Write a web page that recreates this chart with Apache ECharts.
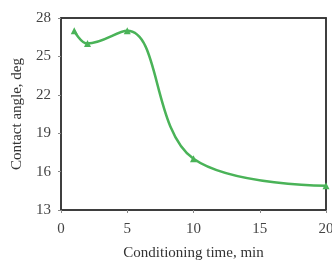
<!DOCTYPE html>
<html><head><meta charset="utf-8">
<script src="https://cdn.jsdelivr.net/npm/echarts@6/dist/echarts.min.js"></script>
<style>html,body{margin:0;padding:0;background:#fff}#c{width:332px;height:261px}</style>
</head><body><div id="c"></div>
<script>
const times = [1, 2, 5, 10, 20];
const angles = [27.0, 26.0, 27.0, 17.0, 14.9];
const xTicks = [0, 5, 10, 15, 20];
const yTicks = [13, 16, 19, 22, 25, 28];
const xName = 'Conditioning time, min';
const yName = 'Contact angle, deg';

const chart = echarts.init(document.getElementById('c'));
const font = 'Liberation Serif, Times New Roman, serif';
const frame = {show: true, onZero: false, lineStyle: {color: '#333', width: 1.5}};
chart.setOption({
  animation: false,
  grid: {left: 61, right: 6, top: 18, bottom: 51, outerBoundsMode: 'none', containLabel: false,
         show: true, borderColor: '#333', borderWidth: 1.5},
  xAxis: [{
    type: 'value', min: xTicks[0], max: xTicks[xTicks.length-1], interval: 5,
    name: xName, nameLocation: 'middle', nameGap: 36,
    nameTextStyle: {fontFamily: font, fontSize: 15, color: '#333'},
    axisLine: frame,
    axisTick: {show: true, inside: false, length: 3, lineStyle: {color: '#888'}},
    axisLabel: {fontFamily: font, fontSize: 15, color: '#444', margin: 12},
    splitLine: {show: false}
  }, {
    type: 'value', position: 'top', min: xTicks[0], max: xTicks[xTicks.length-1], interval: 5,
    axisLine: frame, axisTick: {show: false}, axisLabel: {show: false}, splitLine: {show: false}
  }],
  yAxis: [{
    type: 'value', min: yTicks[0], max: yTicks[yTicks.length-1], interval: 3,
    name: yName, nameLocation: 'middle', nameGap: 36,
    nameTextStyle: {fontFamily: font, fontSize: 15, color: '#333'},
    axisLine: frame,
    axisTick: {show: true, inside: false, length: 3, lineStyle: {color: '#888'}},
    axisLabel: {fontFamily: font, fontSize: 15, color: '#444', margin: 10},
    splitLine: {show: false}
  }, {
    type: 'value', position: 'right', min: yTicks[0], max: yTicks[yTicks.length-1], interval: 3,
    axisLine: frame, axisTick: {show: false}, axisLabel: {show: false}, splitLine: {show: false}
  }],
  series: [{
    type: 'line', smooth: 0.4,
    data: times.map((t, i) => [t, angles[i]]),
    symbol: 'triangle', symbolSize: 7,
    lineStyle: {color: '#4ab358', width: 2.5},
    itemStyle: {color: '#4ab358'}
  }]
});
</script></body></html>
